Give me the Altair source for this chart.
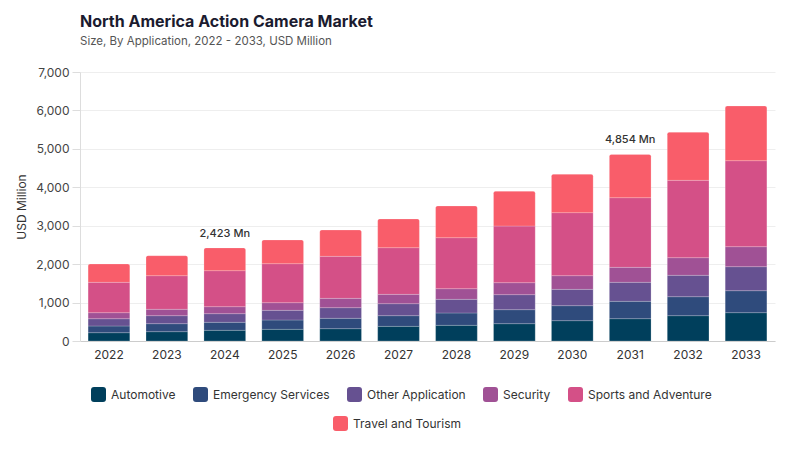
import altair as alt
import pandas as pd

years = ["2022", "2023", "2024", "2025", "2026", "2027", "2028", "2029", "2030", "2031", "2032", "2033"]
series = ["Automotive", "Emergency Services", "Other Application", "Security", "Sports and Adventure", "Travel and Tourism"]
colors = ["#003f5c", "#2f4b7c", "#665191", "#a05195", "#d45087", "#f95d6a"]

automotive = [216, 243, 278, 304, 321, 381, 408, 451, 529, 581, 659, 737]
emergency = [174, 208, 208, 242, 269, 278, 321, 364, 390, 451, 494, 572]
other = [190, 208, 225, 252, 277, 312, 355, 391, 425, 495, 556, 625]
security = [157, 166, 182, 199, 243, 243, 278, 312, 356, 390, 459, 521]
sports = [790, 875, 937, 1015, 1093, 1215, 1327, 1474, 1640, 1813, 2013, 2237]
travel = [477, 520, 593, 616, 685, 746, 824, 902, 997, 1124, 1249, 1423]

y_ticks = [0, 1000, 2000, 3000, 4000, 5000, 6000, 7000]
label_years = ["2024", "2031"]

values = [automotive, emergency, other, security, sports, travel]
rows = []
for si, (name, vals) in enumerate(zip(series, values)):
    for y, v in zip(years, vals):
        rows.append({"year": y, "series": name, "value": v, "order": si})
df = pd.DataFrame(rows)

FONT = "Inter"
SYMBOL = ("M -0.6 -1 L 0.6 -1 Q 1 -1 1 -0.6 L 1 0.6 Q 1 1 0.6 1 L -0.6 1 "
          "Q -1 1 -1 0.6 L -1 -0.6 Q -1 -1 -0.6 -1 Z")

base = alt.Chart(df).transform_stack(
    stack="value", groupby=["year"], as_=["y0", "y1"], sort=[alt.SortField("order", "ascending")]
)

y_scale = alt.Scale(domain=[0, 7000], nice=False)
x_scale = alt.Scale(paddingInner=0.28, paddingOuter=0.14)

x_axis = alt.Axis(labelAngle=0, ticks=False, labelPadding=8, labelFontSize=12,
                  labelColor="#333333", domainColor="#cccccc", labelFont=FONT)
y_axis = alt.Axis(values=y_ticks, tickCount=8, format=",.0f",
                  labelOverlap=False,
                  labelFontSize=12, labelColor="#444444", labelFont=FONT,
                  titleFontSize=12, titleFontWeight="normal", titleColor="#333333", titleFont=FONT,
                  titlePadding=7, tickColor="#dddddd", tickSize=8, domainColor="#dddddd",
                  gridColor="#eeeeee", labelPadding=3)

x_enc = alt.X("year:N", title=None, sort=years, scale=x_scale, axis=x_axis)
y_enc = alt.Y("y0:Q", title="USD Million", scale=y_scale, axis=y_axis)

legend_common = dict(direction="horizontal", orient="none", symbolType=SYMBOL, symbolSize=225,
                     symbolStrokeWidth=0, labelFontSize=12, labelColor="#333333", labelFont=FONT,
                     columnPadding=17, labelOffset=5, padding=0, titlePadding=0)

color_enc = alt.Color("series:N", title=None,
                      scale=alt.Scale(domain=series[:5], range=colors[:5]),
                      legend=alt.Legend(legendX=11, legendY=315, **legend_common))
fill_enc = alt.Fill("series:N", title=None,
                    scale=alt.Scale(domain=series[5:], range=colors[5:]),
                    legend=alt.Legend(legendX=253, legendY=344, **legend_common))

lower = base.transform_filter(alt.datum.series != "Travel and Tourism").mark_bar(
    stroke="white", strokeWidth=0.5, strokeOpacity=0.4
).encode(x=x_enc, y=y_enc, y2="y1:Q", color=color_enc)

top = base.transform_filter(alt.datum.series == "Travel and Tourism").mark_bar(
    cornerRadiusTopLeft=2, cornerRadiusTopRight=2, stroke="white", strokeWidth=0.5, strokeOpacity=0.4
).encode(x=x_enc, y=y_enc, y2="y1:Q", fill=fill_enc)

labels = alt.Chart(df).transform_aggregate(
    total="sum(value)", groupby=["year"]
).transform_filter(
    alt.FieldOneOfPredicate(field="year", oneOf=label_years)
).transform_calculate(
    label="format(datum.total, ',.0f') + ' Mn'"
).mark_text(dy=-14, fontSize=11, color="#333333", font=FONT, fontWeight=500).encode(
    x=alt.X("year:N", title=None, sort=years, scale=x_scale, axis=x_axis),
    y=alt.Y("total:Q", title="USD Million", scale=y_scale, axis=y_axis),
    text="label:N"
)

chart = alt.layer(lower, top, labels).resolve_scale(color="independent", fill="independent").properties(
    width=695, height=269,
    padding={"left": 7, "top": 5, "right": 5, "bottom": 5},
    title=alt.Title("North America Action Camera Market",
                    subtitle="Size, By Application, 2022 - 2033, USD Million",
                    anchor="start", frame="group", font=FONT, fontSize=16, fontWeight="bold",
                    color="#1b1b2f", subtitleFont=FONT, subtitleFontSize=11.5, subtitleColor="#555555",
                    subtitlePadding=6, offset=19),
).configure_view(stroke=None)

chart.save("out.html", embed_options={"renderer": "svg", "actions": False})
